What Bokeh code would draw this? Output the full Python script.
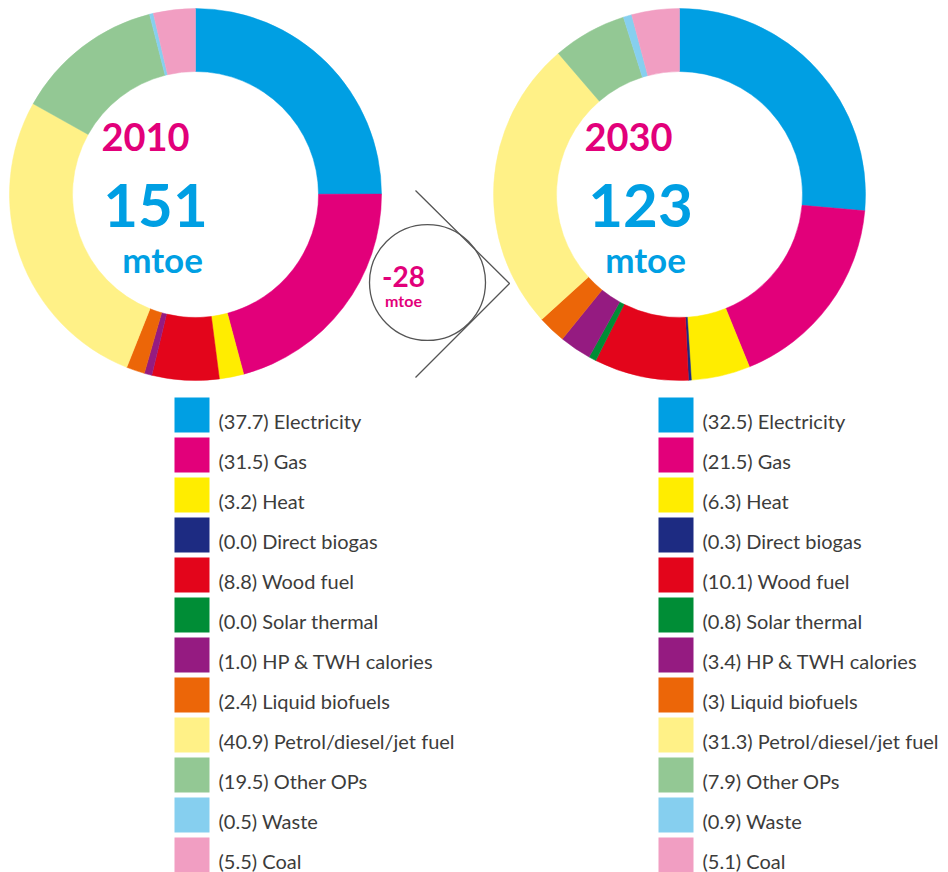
import math
from bokeh.plotting import figure
from bokeh.models import Range1d
from bokeh.core.properties import value
from bokeh.embed import file_html
from bokeh.resources import INLINE

categories = ["Electricity", "Gas", "Heat", "Direct biogas", "Wood fuel", "Solar thermal",
              "HP & TWH calories", "Liquid biofuels", "Petrol/diesel/jet fuel", "Other OPs",
              "Waste", "Coal"]
colors = ["#009FE3", "#E2007A", "#FFED00", "#1D2B82", "#E3051B", "#008D36",
          "#951B81", "#EC6608", "#FFF187", "#93C894", "#86CFEF", "#F19EC2"]
values_2010 = [37.7, 31.5, 3.2, 0.0, 8.8, 0.0, 1.0, 2.4, 40.9, 19.5, 0.5, 5.5]
labels_2010 = ["37.7", "31.5", "3.2", "0.0", "8.8", "0.0", "1.0", "2.4", "40.9", "19.5", "0.5", "5.5"]
values_2030 = [32.5, 21.5, 6.3, 0.3, 10.1, 0.8, 3.4, 3.0, 31.3, 7.9, 0.9, 5.1]
labels_2030 = ["32.5", "21.5", "6.3", "0.3", "10.1", "0.8", "3.4", "3", "31.3", "7.9", "0.9", "5.1"]
years = ["2010", "2030"]
totals = ["151", "123"]
difference = "-28"

W, H = 948, 872
p = figure(width=W, height=H, output_backend="svg", toolbar_location=None,
           x_range=Range1d(0, W), y_range=Range1d(0, H), min_border=0)
p.axis.visible = False
p.grid.visible = False
p.outline_line_color = None
p.background_fill_color = "white"
p.border_fill_color = "white"

def Y(y_img):
    return H - y_img

R_OUT, R_IN = 186, 123
CY = Y(194)

def donut(cx, vals):
    tot = sum(vals)
    starts, ends, cols = [], [], []
    cum = 0.0
    for v, c in zip(vals, colors):
        if v <= 0:
            continue
        a0 = math.pi / 2 - 2 * math.pi * cum / tot
        cum += v
        a1 = math.pi / 2 - 2 * math.pi * cum / tot
        starts.append(a0); ends.append(a1); cols.append(c)
    p.annular_wedge(x=[cx] * len(starts), y=[CY] * len(starts), inner_radius=R_IN,
                    outer_radius=R_OUT, start_angle=starts, end_angle=ends,
                    direction="clock", fill_color=cols, line_color=cols, line_width=0.5)

donut(195, values_2010)
donut(679, values_2030)

BOLD = value("Lato")
for cx, yr in [(145, years[0]), (628, years[1])]:
    p.text(x=[cx], y=[Y(136)], text=[yr], text_font=BOLD, text_font_style="bold",
           text_font_size="38px", text_color="#E2007A", text_align="center",
           text_baseline="middle")
for cx, tot in [(155, totals[0]), (640, totals[1])]:
    p.text(x=[cx], y=[Y(205)], text=[tot], text_font=BOLD, text_font_style="bold",
           text_font_size="60px", text_color="#009FE3", text_align="center",
           text_baseline="middle")
for cx in [162, 645]:
    p.text(x=[cx], y=[Y(258)], text=["mtoe"], text_font=BOLD, text_font_style="bold",
           text_font_size="35px", text_color="#009FE3", text_align="center",
           text_baseline="middle")

# arrow circle
p.circle(x=[427], y=[Y(282)], radius=58, fill_color=None, line_color="#555555", line_width=1.3)
p.line(x=[415, 509, 415], y=[Y(190), Y(283), Y(377)], line_color="#555555", line_width=1.3)
p.text(x=[403], y=[Y(276)], text=[difference], text_font=BOLD, text_font_style="bold",
       text_font_size="28px", text_color="#E2007A", text_align="center", text_baseline="middle")
p.text(x=[403], y=[Y(300)], text=["mtoe"], text_font=BOLD, text_font_style="bold",
       text_font_size="16px", text_color="#E2007A", text_align="center", text_baseline="middle")

# legends
for sx, labs in [(174, labels_2010), (658, labels_2030)]:
    tops = [397 + 40 * i for i in range(len(categories))]
    p.quad(left=[sx] * len(tops), right=[sx + 35] * len(tops),
           top=[Y(t) for t in tops], bottom=[Y(t + 35) for t in tops],
           fill_color=colors, line_color=None)
    texts = ["(%s) %s" % (l, c) for l, c in zip(labs, categories)]
    p.text(x=[sx + 44] * len(tops), y=[Y(t + 23) for t in tops], text=texts,
           text_font=value("Lato"), text_font_size="20px", text_color="#3C3C3B",
           text_align="left", text_baseline="middle")

open("out.html", "w").write(file_html(p, INLINE))
